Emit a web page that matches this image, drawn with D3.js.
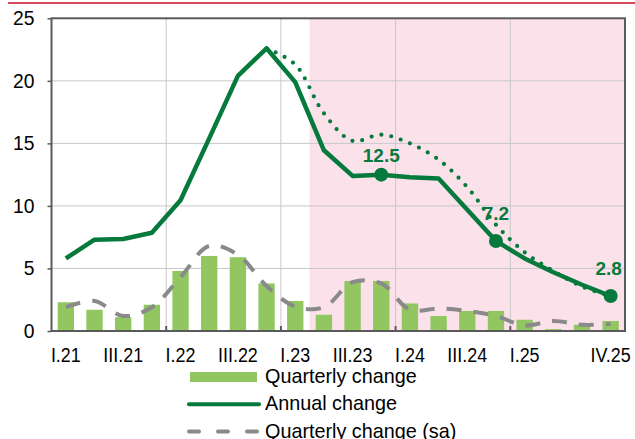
<!DOCTYPE html>
<meta charset="utf-8">
<style>
  body { margin: 0; background: #fff; }
  text { font-family: "Liberation Sans", Arial, sans-serif; }
</style>
<body>
<script src="https://d3js.org/d3.v7.min.js"></script>
<script>
// chart data
var quarters = ["I.21", "II.21", "III.21", "IV.21", "I.22", "II.22", "III.22", "IV.22",
                "I.23", "II.23", "III.23", "IV.23", "I.24", "II.24", "III.24", "IV.24",
                "I.25", "II.25", "III.25", "IV.25"];
var tickLabels = ["I.21", "III.21", "I.22", "III.22", "I.23", "III.23", "I.24", "III.24", "I.25", "IV.25"];
var yearStarts = ["I.22", "I.23", "I.24", "I.25"];
var quarterly = [2.3, 1.7, 1.1, 2.1, 4.8, 6.0, 5.9, 3.8, 2.4, 1.3, 4.0, 4.0, 2.2, 1.2, 1.6, 1.6, 0.9, 0.15, 0.5, 0.8];
var annual = [5.8, 7.3, 7.35, 7.85, 10.45, 15.4, 20.4, 22.6, 19.9, 14.45, 12.4, 12.5, 12.3, 12.2, 9.7, 7.2, 5.8, 4.7, 3.7, 2.8];
var annualPrevious = [null, null, null, null, null, null, null, 22.6, 21.3, 17.4, 15.2, 15.7, 15.0, 13.7, 11.5, 8.5, 6.3, 4.8, 3.55, 2.8];
var quarterlySa = [1.9, 2.4, 1.2, 1.9, 4.3, 6.8, 6.1, 3.6, 1.95, 1.9, 3.9, 3.8, 1.7, 1.8, 1.6, 1.2, 0.45, 0.8, 0.5, 0.55];
var labelledQuarters = ["IV.23", "IV.24", "IV.25"];
var shadeFrom = "II.23";
var legendNames = ["Quarterly change", "Annual change", "Quarterly change (sa)"];

var W = 635, H = 439,
    plotL = 51.5, plotR = 625, plotT = 18.3, plotB = 331;

var barColor = "#92c660", lineColor = "#067a3c", saColor = "#8a8a8a",
    gridColor = "#c8c8c8", frameColor = "#5a5a5a";

var svg = d3.select("body").append("svg")
  .attr("width", W)
  .attr("height", H);

var x = d3.scaleBand().domain(quarters).range([plotL, plotR]).paddingInner(0.43).paddingOuter(0.215),
    y = d3.scaleLinear().domain([0, 25]).range([plotB, plotT]);

function cx(q) { return x(q) + x.bandwidth() / 2; }
function edge(q) { return x(q) - (x.step() - x.bandwidth()) / 2; }

// red rule on top
svg.append("line")
  .attr("x1", 8).attr("x2", W).attr("y1", 3).attr("y2", 3)
  .attr("stroke", "#d6495e").attr("stroke-width", 2);

// forecast shading
svg.append("rect")
  .attr("x", edge(shadeFrom)).attr("y", plotT)
  .attr("width", plotR - edge(shadeFrom)).attr("height", plotB - plotT)
  .attr("fill", "#fbe1ea");

// grid
svg.append("g").selectAll("line").data([5, 10, 15, 20]).join("line")
  .attr("x1", plotL).attr("x2", plotR)
  .attr("y1", d => y(d)).attr("y2", d => y(d))
  .attr("stroke", gridColor).attr("stroke-width", 1);
svg.append("g").selectAll("line").data(yearStarts).join("line")
  .attr("x1", d => edge(d)).attr("x2", d => edge(d))
  .attr("y1", plotT).attr("y2", plotB)
  .attr("stroke", gridColor).attr("stroke-width", 1);

// bars
svg.append("g").selectAll("rect").data(quarterly).join("rect")
  .attr("x", (d, i) => x(quarters[i]))
  .attr("width", x.bandwidth())
  .attr("y", d => y(d))
  .attr("height", d => y(0) - y(d))
  .attr("fill", barColor);

// seasonally adjusted quarterly change
var saLine = d3.line()
  .x((d, i) => cx(quarters[i]))
  .y(d => y(d))
  .curve(d3.curveCatmullRom);
svg.append("path")
  .attr("d", saLine(quarterlySa))
  .attr("fill", "none").attr("stroke", saColor)
  .attr("stroke-width", 4).attr("stroke-dasharray", "15,12");

// previous annual path (dotted)
var prevLine = d3.line()
  .defined(d => d != null)
  .x((d, i) => cx(quarters[i]))
  .y(d => y(d))
  .curve(d3.curveCatmullRom);
svg.append("path")
  .attr("d", prevLine(annualPrevious))
  .attr("fill", "none").attr("stroke", lineColor)
  .attr("stroke-width", 4.2).attr("stroke-linecap", "round")
  .attr("stroke-dasharray", "0,10");

// annual change
var annLine = d3.line()
  .x((d, i) => cx(quarters[i]))
  .y(d => y(d));
svg.append("path")
  .attr("d", annLine(annual))
  .attr("fill", "none").attr("stroke", lineColor)
  .attr("stroke-width", 4.5).attr("stroke-linejoin", "round");

// markers and value labels
var marks = svg.append("g").selectAll("g").data(labelledQuarters).join("g")
  .attr("transform", q => "translate(" + cx(q) + "," + y(annual[quarters.indexOf(q)]) + ")");
marks.append("circle").attr("r", 7).attr("fill", lineColor);
marks.append("text")
  .attr("text-anchor", "middle")
  .attr("y", (q, i) => i == 0 ? -13 : -21)
  .attr("dx", (q, i) => i == 2 ? -2 : 0)
  .attr("font-size", 19).attr("font-weight", "bold")
  .attr("fill", lineColor)
  .text(q => d3.format(".1f")(annual[quarters.indexOf(q)]));

// frame
svg.append("rect")
  .attr("x", plotL).attr("y", plotT)
  .attr("width", plotR - plotL).attr("height", plotB - plotT)
  .attr("fill", "none").attr("stroke", frameColor).attr("stroke-width", 2);

// year ticks on the bottom axis
svg.append("g").selectAll("line").data(yearStarts).join("line")
  .attr("x1", d => edge(d)).attr("x2", d => edge(d))
  .attr("y1", plotB - 5).attr("y2", plotB)
  .attr("stroke", frameColor).attr("stroke-width", 2);

// y axis
var yAxis = svg.append("g")
  .attr("transform", "translate(" + plotL + ",0)")
  .call(d3.axisLeft(y).tickValues([0, 5, 10, 15, 20, 25]).tickSize(4).tickPadding(13));
yAxis.select(".domain").remove();
yAxis.selectAll("line").attr("stroke", frameColor).attr("stroke-width", 1.5);
yAxis.selectAll("text").attr("font-size", 19.3).attr("fill", "#000")
  .attr("font-family", "Liberation Sans, Arial, sans-serif");

// x axis (labels a little narrow, as in the original)
var xAxis = svg.append("g")
  .attr("transform", "translate(0," + plotB + ")")
  .call(d3.axisBottom(x).tickValues(tickLabels).tickSize(0).tickPadding(17.5));
xAxis.select(".domain").remove();
xAxis.selectAll("text").attr("font-size", 19.5).attr("fill", "#000")
  .attr("font-family", "Liberation Sans, Arial, sans-serif")
  .attr("transform", "scale(0.92,1)");

// legend
var legend = svg.append("g").attr("transform", "translate(187,0)");
var rows = legend.selectAll("g").data(legendNames).join("g")
  .attr("transform", (d, i) => "translate(0," + (377 + i * 27.3) + ")");
rows.filter((d, i) => i == 0).append("rect")
  .attr("x", 3).attr("y", -5).attr("width", 67).attr("height", 10).attr("fill", barColor);
rows.filter((d, i) => i == 1).append("line")
  .attr("x1", 2).attr("x2", 72).attr("y1", 0).attr("y2", 0)
  .attr("stroke", lineColor).attr("stroke-width", 4).attr("stroke-linecap", "round");
rows.filter((d, i) => i == 2).append("line")
  .attr("x1", 2).attr("x2", 72).attr("y1", 0).attr("y2", 0)
  .attr("stroke", saColor).attr("stroke-width", 4).attr("stroke-linecap", "round")
  .attr("stroke-dasharray", "10,19");
rows.append("text")
  .attr("x", 78).attr("y", 6)
  .attr("font-size", 19.8).attr("fill", "#000")
  .text(d => d);
</script>
</body>
